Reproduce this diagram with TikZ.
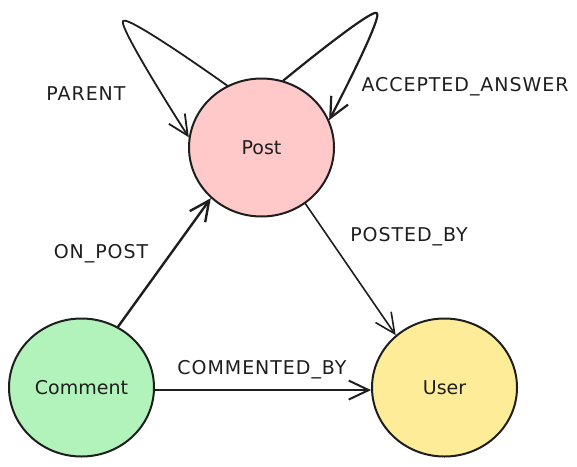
\documentclass[tikz,border=0pt]{standalone}
\usepackage{fontspec}
\setmainfont{DejaVu Sans}
\newfontfamily\labelfont[LetterSpace=5]{DejaVu Sans}
\usetikzlibrary{arrows.meta,shapes.geometric}
\definecolor{ink}{HTML}{1E1E1E}
\definecolor{postfill}{HTML}{FFC9C9}
\definecolor{commentfill}{HTML}{B2F2BB}
\definecolor{userfill}{HTML}{FFEC99}
\begin{document}
\begin{tikzpicture}[x=1pt,y=-1pt,
  entity/.style={ellipse, draw=ink, line width=2pt, minimum width=145pt, minimum height=138pt, inner sep=0pt, font=\fontsize{19}{22}\selectfont, text=ink},
  rel/.style={draw=ink, line width=1.6pt, -{Straight Barb[length=20pt,width=19pt]}, line cap=round, line join=round},
  lab/.style={font=\labelfont\fontsize{19}{22}\selectfont, text=ink, inner sep=0pt}]
\useasboundingbox (0,0) rectangle (577,466);
\node[entity, fill=postfill] (post) at (261.5,147.5) {Post};
\node[entity, fill=commentfill] (comment) at (81.5,387.5) {Comment};
\node[entity, fill=userfill] (user) at (444.5,387.5) {User};
\coordinate (parentapex) at (123,21);
\coordinate (acceptapex) at (377,13);
\draw[rel, line width=1.8pt] plot[smooth, tension=0.45] coordinates {(post.119) (parentapex) (post.172)};
\draw[rel, line width=2.2pt] plot[smooth, tension=0.45] coordinates {(post.72) (acceptapex) (post.22.5)};
\draw[rel, line width=2.4pt] (comment.59) -- (post.225);
\draw[rel, line width=1.6pt] (post.-52) -- (user.133);
\draw[rel, line width=2pt] (comment.-2) -- (user.182.5);
\node[lab] (lparent) at (86,94) {PARENT};
\node[lab] (laccept) at (465,87) {ACCEPTED\_ANSWER};
\node[lab] (lposted) at (409,237) {POSTED\_BY};
\node[lab] (lonpost) at (101,254) {ON\_POST};
\node[lab] (lcommented) at (262,370) {COMMENTED\_BY};
\end{tikzpicture}
\end{document}
